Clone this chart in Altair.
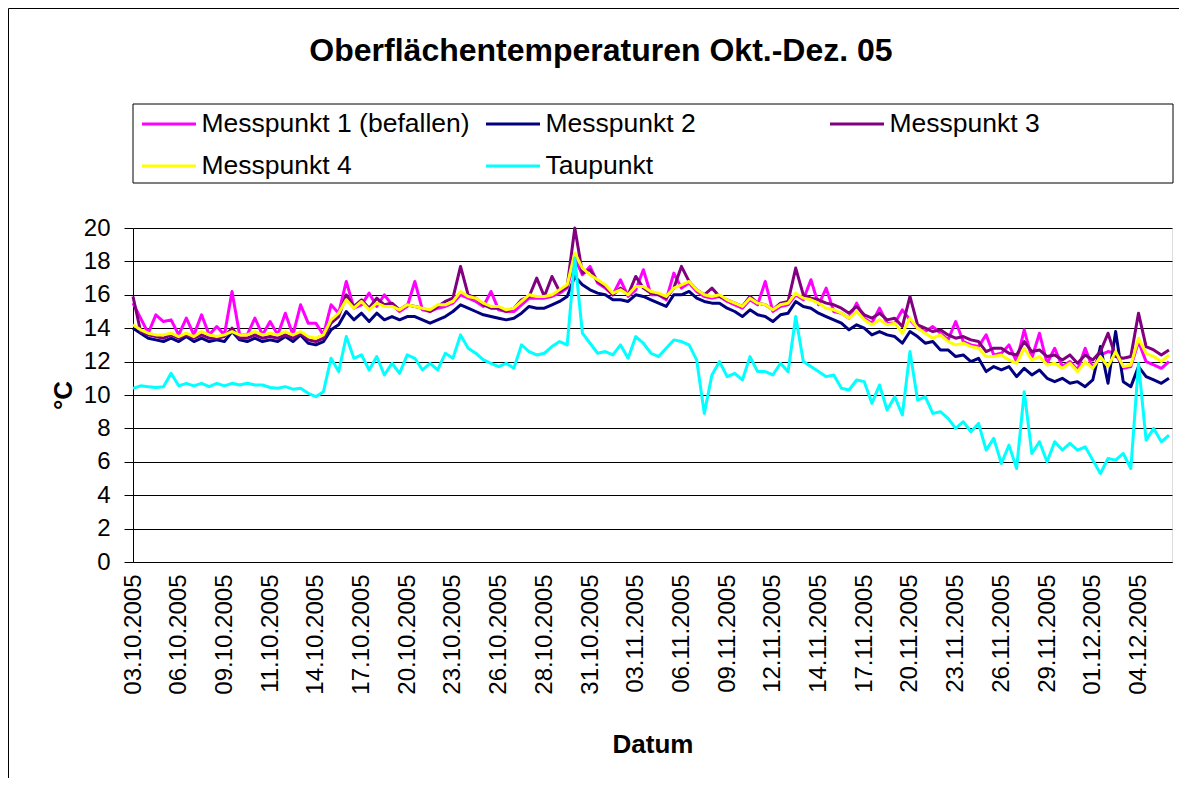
import altair as alt
import pandas as pd

TITLE = "Oberflächentemperaturen Okt.-Dez. 05"
DATES = ["03.10.2005", "06.10.2005", "09.10.2005", "11.10.2005", "14.10.2005",
         "17.10.2005", "20.10.2005", "23.10.2005", "26.10.2005", "28.10.2005",
         "31.10.2005", "03.11.2005", "06.11.2005", "09.11.2005", "12.11.2005",
         "14.11.2005", "17.11.2005", "20.11.2005", "23.11.2005", "26.11.2005",
         "29.11.2005", "01.12.2005", "04.12.2005"]
LABEL_STEP = 6  # measurements between two date labels
SERIES = ["Messpunkt 1 (befallen)", "Messpunkt 2", "Messpunkt 3", "Messpunkt 4", "Taupunkt"]
COLORS = ["#FF00FF", "#000080", "#800080", "#FFFF00", "#00FFFF"]

MP1 = [15.5, 14.6, 13.7, 14.8, 14.4, 14.5, 13.6, 14.6, 13.6, 14.8, 13.6, 14.1, 13.6, 16.2, 13.6, 13.6, 14.6, 13.6,
       14.4, 13.6, 14.9, 13.6, 15.4, 14.3, 14.3, 13.6, 15.4, 14.9, 16.8, 15.2, 15.4, 16.1, 15.3, 16.0, 15.4,
       15.0, 15.3, 16.8, 15.1, 15.0, 15.2, 15.3, 15.5, 16.0, 15.8, 15.6, 15.3, 16.2, 15.1, 15.0, 15.0, 15.4,
       15.8, 15.8, 15.8, 15.9, 16.1, 16.4, 18.2, 17.2, 17.7, 16.7, 16.4, 16.0, 16.9, 15.9, 16.3, 17.5, 16.0,
       16.0, 15.7, 17.3, 16.4, 16.7, 16.2, 15.9, 15.8, 15.9, 15.6, 15.4, 15.2, 15.7, 15.4, 16.8, 15.0, 15.3,
       15.4, 16.0, 15.7, 16.9, 15.4, 16.4, 15.0, 14.9, 14.6, 15.5, 14.6, 14.3, 15.2, 14.3, 14.3, 15.1, 14.5,
       14.0, 13.8, 14.1, 13.7, 13.3, 14.4, 13.2, 13.0, 12.9, 13.6, 12.4, 12.5, 13.0, 12.0, 13.9, 12.2, 13.7,
       11.9, 12.8, 11.7, 12.0, 11.5, 12.8, 11.6, 12.4, 12.6, 12.5, 11.6, 11.7, 13.2, 12.0, 11.8, 11.6, 12.0]
MP2 = [14.0, 13.7, 13.4, 13.3, 13.2, 13.4, 13.2, 13.5, 13.2, 13.4, 13.2, 13.3, 13.2, 13.8, 13.3, 13.2, 13.4, 13.2,
       13.3, 13.2, 13.5, 13.2, 13.6, 13.1, 13.0, 13.2, 13.9, 14.2, 15.0, 14.5, 14.9, 14.4, 14.9, 14.5, 14.7,
       14.5, 14.7, 14.7, 14.5, 14.3, 14.5, 14.7, 15.0, 15.4, 15.2, 15.0, 14.8, 14.7, 14.6, 14.5, 14.6, 14.9,
       15.3, 15.2, 15.2, 15.4, 15.6, 15.9, 17.1, 16.6, 16.3, 16.1, 16.0, 15.7, 15.7, 15.6, 16.0, 15.9, 15.7,
       15.5, 15.3, 16.0, 16.0, 16.2, 15.8, 15.6, 15.5, 15.5, 15.2, 15.0, 14.7, 15.1, 14.8, 14.7, 14.4, 14.8,
       14.9, 15.6, 15.3, 15.2, 14.9, 14.7, 14.5, 14.3, 13.9, 14.2, 14.0, 13.6, 13.8, 13.6, 13.5, 13.1, 13.8,
       13.5, 13.1, 13.2, 12.7, 12.7, 12.3, 12.4, 12.0, 12.2, 11.4, 11.7, 11.5, 11.7, 11.1, 11.6, 11.2, 11.5,
       11.0, 10.8, 11.0, 10.7, 10.8, 10.5, 10.9, 12.9, 10.7, 13.8, 10.8, 10.5, 11.7, 11.1, 10.9, 10.7, 11.0]
MP3 = [15.9, 13.8, 13.6, 13.5, 13.4, 13.6, 13.4, 13.6, 13.4, 13.6, 13.4, 13.4, 13.5, 14.0, 13.4, 13.4, 13.6, 13.4,
       13.5, 13.4, 13.6, 13.4, 13.7, 13.3, 13.2, 13.4, 14.3, 14.7, 16.0, 15.3, 15.7, 15.2, 15.8, 15.4, 15.5,
       15.1, 15.4, 15.3, 15.2, 15.0, 15.3, 15.6, 15.8, 17.7, 16.0, 15.8, 15.4, 15.2, 15.2, 15.0, 15.2, 15.7,
       15.9, 17.0, 15.9, 17.1, 16.2, 16.5, 20.0, 17.3, 17.5, 16.8, 16.5, 16.0, 16.4, 16.0, 17.1, 16.4, 16.1,
       16.0, 15.8, 16.4, 17.7, 16.8, 16.3, 16.0, 16.4, 15.9, 15.7, 15.5, 15.3, 15.9, 15.5, 15.4, 15.1, 15.5,
       15.6, 17.6, 16.0, 15.8, 15.7, 15.5, 15.4, 15.2, 14.9, 15.3, 14.8, 14.6, 14.9, 14.5, 14.6, 14.1, 15.9,
       14.2, 14.0, 13.8, 13.9, 13.6, 13.4, 13.5, 13.3, 13.2, 12.6, 12.8, 12.8, 12.5, 12.4, 13.2, 12.6, 12.7,
       12.3, 12.4, 12.1, 12.4, 11.9, 12.4, 12.1, 12.6, 13.7, 12.3, 12.2, 12.3, 14.9, 12.9, 12.7, 12.4, 12.7]
MP4 = [14.2, 13.9, 13.7, 13.6, 13.6, 13.7, 13.5, 13.7, 13.5, 13.8, 13.6, 13.5, 13.6, 13.8, 13.6, 13.6, 13.8, 13.6,
       13.7, 13.6, 13.8, 13.6, 13.8, 13.5, 13.4, 13.6, 14.5, 14.9, 15.7, 15.2, 15.6, 15.1, 15.5, 15.3, 15.3,
       15.1, 15.4, 15.3, 15.2, 15.1, 15.4, 15.4, 15.6, 16.2, 15.9, 15.8, 15.5, 15.3, 15.3, 15.1, 15.2, 15.6,
       16.0, 15.9, 15.9, 16.0, 16.3, 16.6, 18.5, 17.6, 17.2, 16.9, 16.6, 16.1, 16.3, 16.0, 16.5, 16.5, 16.2,
       16.1, 15.9, 16.4, 16.6, 16.8, 16.3, 16.0, 15.9, 16.0, 15.7, 15.5, 15.3, 15.8, 15.5, 15.4, 15.1, 15.4,
       15.5, 16.1, 15.8, 15.7, 15.5, 15.2, 15.1, 14.9, 14.6, 15.0, 14.5, 14.2, 14.5, 14.2, 14.3, 13.7, 14.6,
       14.0, 13.7, 13.4, 13.6, 13.2, 13.0, 13.1, 12.9, 12.8, 12.3, 12.3, 12.4, 12.1, 11.9, 12.8, 12.1, 12.3,
       11.8, 11.9, 11.6, 11.9, 11.4, 12.0, 11.6, 12.3, 11.7, 12.6, 11.7, 11.8, 13.4, 12.5, 12.3, 12.0, 12.4]
TAU = [10.4, 10.55, 10.5, 10.45, 10.5, 11.3, 10.55, 10.7, 10.55, 10.7, 10.5, 10.7, 10.55, 10.7, 10.6, 10.7, 10.6,
       10.6, 10.45, 10.4, 10.5, 10.35, 10.4, 10.1, 9.9, 10.2, 12.2, 11.4, 13.5, 12.2, 12.4, 11.5, 12.3, 11.2, 11.9,
       11.3, 12.4, 12.2, 11.5, 11.9, 11.5, 12.5, 12.2, 13.6, 12.8, 12.5, 12.1, 11.9, 11.7, 11.9, 11.6, 13.0,
       12.6, 12.4, 12.5, 12.9, 13.2, 13.0, 18.2, 13.7, 13.1, 12.5, 12.6, 12.4, 13.0, 12.2, 13.5, 13.1, 12.5,
       12.3, 12.8, 13.3, 13.2, 13.0, 12.1, 8.9, 11.2, 12.0, 11.1, 11.3, 10.9, 12.3, 11.4, 11.4, 11.2, 11.9,
       11.4, 14.7, 12.0, 11.7, 11.4, 11.1, 11.2, 10.4, 10.3, 10.9, 10.8, 9.5, 10.6, 9.1, 9.9, 8.8, 12.6,
       9.7, 9.9, 8.9, 9.0, 8.6, 8.0, 8.4, 7.8, 8.3, 6.7, 7.4, 5.9, 7.0, 5.6, 10.2, 6.5, 7.2,
       6.0, 7.2, 6.7, 7.1, 6.7, 6.9, 6.1, 5.3, 6.2, 6.1, 6.5, 5.6, 11.9, 7.3, 8.0, 7.2, 7.6]

VALUES = [MP1, MP2, MP3, MP4, TAU]
rows = []
for name, vals in zip(SERIES, VALUES):
    for k, v in enumerate(vals):
        rows.append({"k": k, "series": name, "value": v})
df = pd.DataFrame(rows)

FONT = "Liberation Sans"
label_expr = "[" + ",".join("'%s'" % d for d in DATES) + "][round(datum.value / %d)]" % LABEL_STEP

x_enc = alt.X("k:Q",
              scale=alt.Scale(domain=[0, 136.4], nice=False, zero=False),
              axis=alt.Axis(values=list(range(0, LABEL_STEP * len(DATES), LABEL_STEP)),
                            labelExpr=label_expr, labelAngle=270, labelFontSize=24,
                            labelFont=FONT, labelColor="black", labelPadding=12,
                            labelFlush=False, labelOverlap=False, ticks=False, grid=False,
                            domainColor="black", domainWidth=1,
                            title="Datum", titleFont=FONT, titleFontSize=26,
                            titleFontWeight="bold", titleColor="black", titlePadding=37))
y_enc = alt.Y("value:Q",
              scale=alt.Scale(domain=[0, 20], nice=False),
              axis=alt.Axis(values=list(range(0, 21, 2)), labelFontSize=24, labelFont=FONT,
                            labelColor="black", labelPadding=14, labelFlush=False,
                            tickSize=9, tickColor="black", tickWidth=1,
                            domainColor="black", domainWidth=1,
                            grid=True, gridColor="black", gridWidth=1, gridOpacity=1,
                            title="°C", titleFont=FONT, titleFontSize=26, titleFontWeight="bold",
                            titleColor="black", titlePadding=7))
LEG = alt.Legend(title=None, orient="none", legendX=7.5, legendY=-132.5, columns=3,
                 direction="horizontal", symbolType="stroke", symbolSize=2916,
                 symbolStrokeWidth=3, labelFontSize=26.5, labelFont=FONT, labelColor="black",
                 labelOffset=4, columnPadding=9, rowPadding=-19, gridAlign="all",
                 labelLimit=500, padding=0)
color_enc = alt.Color("series:N", scale=alt.Scale(domain=SERIES, range=COLORS), legend=LEG)

one = pd.DataFrame({"d": [0]})
frame = alt.Chart(one).mark_rect(fillOpacity=0, stroke="black", strokeWidth=1).encode(
    x=alt.value(-124.5), x2=alt.value(1200), y=alt.value(-219.5), y2=alt.value(700))
legend_box = alt.Chart(one).mark_rect(fill="white", stroke="black", strokeWidth=1).encode(
    x=alt.value(0), x2=alt.value(1040), y=alt.value(-124), y2=alt.value(-45))

layers = [frame, legend_box]
for name in SERIES:
    layers.append(
        alt.Chart(df).transform_filter(alt.datum.series == name)
        .mark_line(strokeWidth=3, strokeJoin="round")
        .encode(x=x_enc, y=y_enc, color=color_enc)
    )

chart = alt.layer(*layers).properties(
    width=1039, height=334,
    title=alt.TitleParams(TITLE, font=FONT, fontSize=32, fontWeight="bold", color="black",
                          anchor="middle", frame="group", dx=-51.5, baseline="alphabetic",
                          offset=-85),
    autosize=alt.AutoSizeParams(type="none"),
    padding={"left": 125, "top": 220, "right": 7, "bottom": 216},
).configure_view(fill="#C0C0C0", stroke="#808080", strokeWidth=2).configure(background="white")

chart.save("out.html", embed_options={"renderer": "svg", "actions": False})
